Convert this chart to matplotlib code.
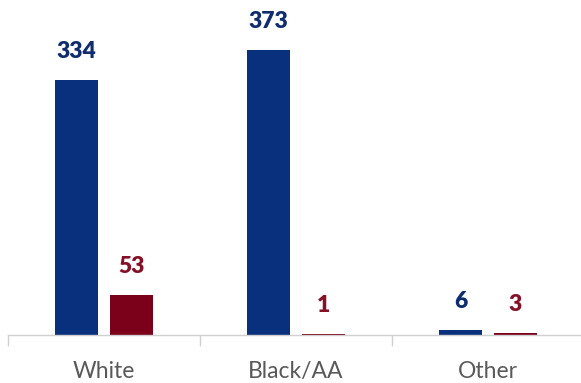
import matplotlib.pyplot as plt
import numpy as np

categories = ["White", "Black/AA", "Other"]
series_a = [334, 373, 6]
series_b = [53, 1, 3]

blue = "#08307c"
red = "#7b0019"

plt.rcParams["font.family"] = ["Lato", "DejaVu Sans"]

fig = plt.figure(figsize=(5.81, 3.83), dpi=100)
ax = fig.add_axes([8 / 581, 48 / 383, 576 / 581, 335 / 383])

x = np.arange(len(categories))
w = 0.225
off = 0.143
bars_a = ax.bar(x - off, series_a, w, color=blue)
bars_b = ax.bar(x + off, series_b, w, color=red)

for bars, vals, col in [(bars_a, series_a, "#0f2c6e"), (bars_b, series_b, "#861026")]:
    for b, v in zip(bars, vals):
        ax.annotate(str(v), (b.get_x() + b.get_width() / 2, v),
                    xytext=(0, 13), textcoords="offset points",
                    ha="center", va="bottom", fontsize=16.5,
                    fontweight="heavy", color=col)

ax.set_xlim(-0.5, 2.5)
ax.set_ylim(0, 439)

for s in ["top", "right", "left"]:
    ax.spines[s].set_visible(False)
ax.spines["bottom"].set_color("#d0d0d0")
ax.spines["bottom"].set_linewidth(1)
ax.set_yticks([])

ax.set_xticks(x)
ax.set_xticklabels(categories, fontsize=16.5, color="#595959")
ax.tick_params(axis="x", which="major", length=0, pad=19)
ax.set_xticks([-0.5, 0.5, 1.5, 2.5], minor=True)
ax.tick_params(axis="x", which="minor", length=8, color="#d0d0d0", width=1)

fig.savefig("out.png", dpi=100)
